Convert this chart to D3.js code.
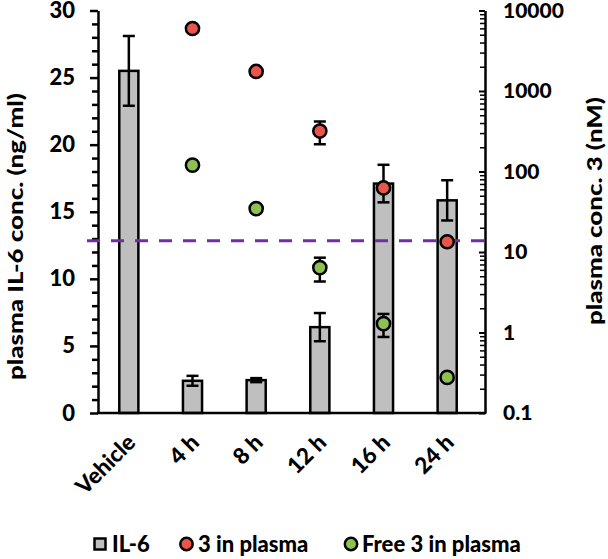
<!DOCTYPE html>
<html><head><meta charset="utf-8">
<script src="https://cdn.jsdelivr.net/npm/d3@7"></script>
<style>
body{margin:0;background:#fff;}
text{font-family:Lato,"Open Sans",sans-serif;font-weight:900;fill:#000;}
</style></head>
<body>
<script>
const categories = ["Vehicle","4 h","8 h","12 h","16 h","24 h"];
const il6 = [25.5, 2.4, 2.45, 6.4, 17.1, 15.85];
const il6Err = [2.6, 0.37, 0.15, 1.05, 1.4, 1.5];
const totalConc = [null, 5980, 1750, 318, 62.5, 13.4];
const totalErr = [null, 0, 0, 100, 0, 0];
const freeConc = [null, 120, 34.6, 6.4, 1.29, 0.277];
const freeErr = [null, 0, 0, 2.1, 0.41, 0];
const thresholdNM = 13.8;
const leftTicks = [0,5,10,15,20,25,30];
const rightTicks = [0.1,1,10,100,1000,10000];
const legendLabels = ["IL-6","3 in plasma","Free 3 in plasma"];
const leftTitle = "plasma IL-6 conc. (ng/ml)";
const rightTitle = "plasma conc. 3 (nM)";

const RED = "#E9544D", GREEN = "#8CC152", GRAY = "#BFBFBF", PURPLE = "#7030A0";
const SW = 2.5;

const svg = d3.select("body").append("svg").attr("width",608).attr("height",559);

const x = d3.scaleBand().domain(categories).range([97,479]).paddingInner(0.7).paddingOuter(0.35);
const yL = d3.scaleLinear().domain([0,30]).range([413,10.5]);
const yR = d3.scaleLog().domain([0.1,10000]).range([413,10.5]);
const cx = c => x(c) + x.bandwidth()/2;

// bars
const barData = categories.map((c,i)=>({c, v:il6[i], e:il6Err[i]}));
svg.append("g").selectAll("rect").data(barData).join("rect")
  .attr("x", d=>x(d.c)).attr("y", d=>yL(d.v))
  .attr("width", x.bandwidth()).attr("height", d=>yL(0)-yL(d.v))
  .attr("fill", GRAY).attr("stroke","#000").attr("stroke-width",SW);

function errBar(g, xc, y1, y2){
  g.append("line").attr("x1",xc).attr("x2",xc).attr("y1",y1).attr("y2",y2)
   .attr("stroke","#000").attr("stroke-width",SW);
  [y1,y2].forEach(y=>g.append("line").attr("x1",xc-6).attr("x2",xc+6).attr("y1",y).attr("y2",y)
   .attr("stroke","#000").attr("stroke-width",SW));
}
const gErr = svg.append("g");
barData.forEach(d=>errBar(gErr, cx(d.c), yL(d.v-d.e), yL(d.v+d.e)));

// left axis
const minorL = d3.range(0,31).filter(v=>v%5!==0);
svg.append("g").attr("transform","translate(98,0)")
  .call(d3.axisLeft(yL).tickValues(minorL).tickSize(6).tickFormat(""))
  .call(g=>g.select(".domain").remove())
  .call(g=>g.selectAll("line").attr("stroke-width",SW));
const axL = svg.append("g").attr("transform","translate(98,0)")
  .call(d3.axisLeft(yL).tickValues(leftTicks).tickSize(8).tickSizeOuter(0).tickPadding(15));
axL.select(".domain").attr("stroke-width",SW);
axL.selectAll("line").attr("stroke-width",SW);
axL.selectAll("text").style("font-size","22px");

// right axis
const minorR = [];
[0.1,1,10,100,1000].forEach(d=>{for(let k=2;k<10;k++) minorR.push(d*k);});
svg.append("g").attr("transform","translate(485,0)")
  .call(d3.axisRight(yR).tickValues(minorR).tickSizeInner(-5).tickFormat(""))
  .call(g=>g.select(".domain").remove())
  .call(g=>g.selectAll("line").attr("stroke-width",1.5));
const axR = svg.append("g").attr("transform","translate(485,0)")
  .call(d3.axisRight(yR).tickValues(rightTicks).tickSizeInner(-6).tickSizeOuter(0).tickPadding(18)
    .tickFormat(d=>String(d)));
axR.select(".domain").attr("stroke-width",SW);
axR.selectAll("line").attr("stroke-width",2);
axR.selectAll("text").style("font-size","21px");

// x axis line
svg.append("line").attr("x1",97).attr("x2",486).attr("y1",yL(0)).attr("y2",yL(0))
  .attr("stroke","#000").attr("stroke-width",SW);

// x labels
svg.append("g").selectAll("text").data(categories).join("text")
  .attr("transform", c=>`translate(${cx(c)+8},444) rotate(-45)`)
  .attr("text-anchor","end").style("font-size","22.5px").text(c=>c);

// threshold
svg.append("line").attr("x1",87).attr("x2",494)
  .attr("y1",yR(thresholdNM)).attr("y2",yR(thresholdNM))
  .attr("stroke",PURPLE).attr("stroke-width",3).attr("stroke-dasharray","13,11");

// dots
const gDots = svg.append("g");
function dots(vals, errs, color){
  categories.forEach((c,i)=>{
    if(vals[i]==null) return;
    if(errs[i]>0) errBar(gDots, cx(c), yR(vals[i]-errs[i]), yR(vals[i]+errs[i]));
  });
  categories.forEach((c,i)=>{
    if(vals[i]==null) return;
    gDots.append("circle").attr("cx",cx(c)).attr("cy",yR(vals[i])).attr("r",6.6)
      .attr("fill",color).attr("stroke","#000").attr("stroke-width",SW);
  });
}
dots(totalConc, totalErr, RED);
dots(freeConc, freeErr, GREEN);

// axis titles
svg.append("text").attr("transform","translate(23,236.5) rotate(-90)")
  .attr("text-anchor","middle").style("font-size","21px")
  .attr("textLength",287).attr("lengthAdjust","spacingAndGlyphs").text(leftTitle);
svg.append("text").attr("transform","translate(602,211) rotate(-90)")
  .attr("text-anchor","middle").style("font-size","21px")
  .attr("textLength",228).attr("lengthAdjust","spacingAndGlyphs").text(rightTitle);

// legend
const lg = svg.append("g");
lg.append("rect").attr("x",94.5).attr("y",538.5).attr("width",11).attr("height",11)
  .attr("fill",GRAY).attr("stroke","#000").attr("stroke-width",SW);
lg.append("text").attr("x",112).attr("y",552).style("font-size","22px").text(legendLabels[0]);
lg.append("circle").attr("cx",186.5).attr("cy",544).attr("r",6.2)
  .attr("fill",RED).attr("stroke","#000").attr("stroke-width",SW);
lg.append("text").attr("x",198).attr("y",552).style("font-size","22px").text(legendLabels[1]);
lg.append("circle").attr("cx",351).attr("cy",544).attr("r",6.2)
  .attr("fill",GREEN).attr("stroke","#000").attr("stroke-width",SW);
lg.append("text").attr("x",362).attr("y",552).style("font-size","22px").text(legendLabels[2]);
</script>
</body></html>
